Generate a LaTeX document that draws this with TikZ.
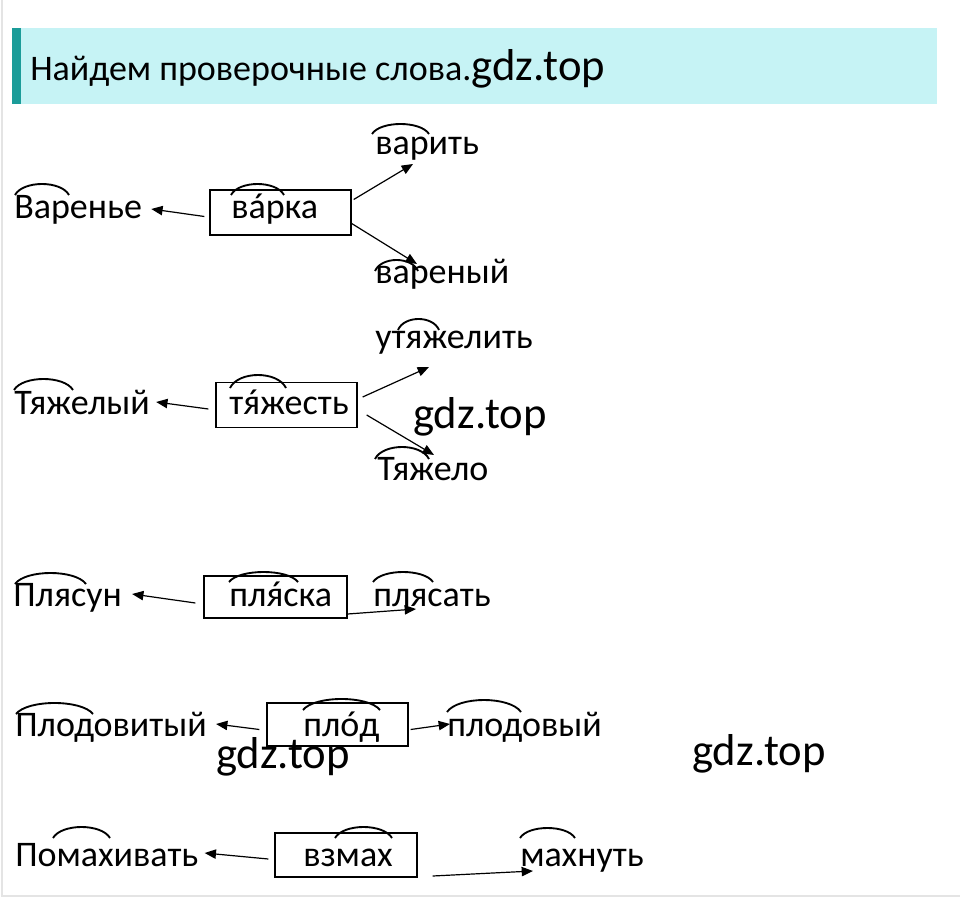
\documentclass[tikz,border=0pt]{standalone}
\usepackage{fontspec}
\setmainfont{Carlito}
\usetikzlibrary{arrows.meta,calc}
\definecolor{band}{HTML}{C6F3F5}
\definecolor{tealbar}{HTML}{1B9C99}
\definecolor{frame}{HTML}{E4E4E4}
\newcommand\warc[4]{%
  \pgfmathsetmacro\ctrly{#3+(#4-#3)/0.75}%
  \draw[arcl] (#1,#3) .. controls ({#1+0.15*(#2-#1)},\ctrly) and ({#2-0.15*(#2-#1)},\ctrly) .. (#2,#3);}
\newcommand\stressed[1]{\leavevmode\ooalign{#1\cr\hidewidth\kern0.12em ´\hidewidth\cr}}
\begin{document}
\begin{tikzpicture}[x=0.75pt,y=-0.75pt,
  word/.style={inner sep=0pt, anchor=base west, font=\fontsize{27}{31}\selectfont},
  hdr/.style={inner sep=0pt, anchor=base west, font=\fontsize{27}{31}\selectfont},
  wm/.style={inner sep=0pt, anchor=base west, font=\fontsize{33.5}{38}\selectfont},
  wbox/.style={draw, line width=1pt, inner sep=0pt},
  arr/.style={line width=0.9pt, -{Triangle[length=8.5pt,width=7pt]}},
  arcl/.style={line width=1.4pt}]
\useasboundingbox (0,0) rectangle (960,898);
\fill[white] (0,0) rectangle (960,898);
\draw[frame, line width=1.2pt] (2,0) -- (2,896) -- (960,896);
% header
\fill[band] (12,28) rectangle (937,104);
\fill[tealbar] (12,28) rectangle (21,104);
\node[hdr] (title) at (30,81) {Найдем проверочные слова.};
\node[wm] (wm0) at (title.base east) {gdz.top};
% row 1
\node[word] (w1l) at (14,219) {Варенье};
\node[wbox, minimum width=141*0.75pt, minimum height=45*0.75pt] (b1) at (280.5,212.5) {};
\node[word] (w1c) at (231,219) {в\stressed{а}рка};
\node[word] (w1u) at (375,155) {варить};
\node[word] (w1d) at (375,284) {вареный};
\warc{15}{69}{195}{184}
\warc{231}{284}{195}{184}
\warc{372}{429}{134}{124}
\warc{375}{418}{271}{260}
\draw[arr] ($(b1.west)+(-5,4)$) -- ($(w1l.base east)+(9,-10)$);
\draw[arr] ($(b1.east)+(2,-13)$) -- ($(w1u.base west)+(38,9)$);
\draw[arr] ($(b1.east)+(0,11)$) -- ($(w1d.base west)+(42,-20)$);
% row 2
\node[word] (w2l) at (14,414) {Тяжелый};
\node[wbox, minimum width=141*0.75pt, minimum height=45*0.75pt] (b2) at (286.5,405) {};
\node[word] (w2c) at (229,414) {т\stressed{я}жесть};
\node[word] (w2u) at (375,349) {утяжелить};
\node[word] (w2d) at (377,480) {Тяжело};
\node[wm] (wm1) at (413,428) {gdz.top};
\warc{14}{73}{390}{379}
\warc{230}{286}{388}{375}
\warc{398}{439}{330}{319}
\warc{375}{429}{459}{447}
\draw[arr] ($(b2.west)+(-7,4)$) -- ($(w2l.base east)+(6,-12)$);
\draw[arr] ($(b2.east)+(5,-8)$) -- ($(w2u.base west)+(54,18)$);
\draw[arr] ($(b2.east)+(9,10)$) -- ($(w2d.base west)+(57,-25)$);
% row 3
\node[word] (w3l) at (13,606) {Плясун};
\node[wbox, minimum width=143*0.75pt, minimum height=42*0.75pt] (b3) at (275.5,597) {};
\node[word] (w3c) at (229,606) {пл\stressed{я}ска};
\node[word] (w3r) at (373,606) {плясать};
\warc{15}{86}{584}{573}
\warc{229}{298}{582}{572}
\warc{373}{433}{582}{572}
\draw[arr] ($(b3.west)+(-8,6)$) -- ($(w3l.base east)+(10,-12)$);
\draw[arr] ($(b3.east)+(0,17)$) -- ($(w3r.base west)+(43,3)$);
% row 4
\node[word] (w4l) at (15,736) {Плодовитый};
\node[wbox, minimum width=141*0.75pt, minimum height=43*0.75pt] (b4) at (337.5,724.5) {};
\node[word] (w4c) at (303,736) {пл\stressed{о}д};
\node[word] (w4r) at (447,736) {плодовый};
\node[wm] (wm2) at (216,768) {gdz.top};
\node[wm] (wm3) at (692,765) {gdz.top};
\warc{16}{93}{714}{703}
\warc{303}{380}{710}{699}
\warc{447}{521}{712}{700}
\draw[arr] ($(b4.west)+(-7,5)$) -- ($(w4l.base east)+(9,-12)$);
\draw[arr] ($(b4.east)+(2,5)$) -- ($(w4r.base west)+(3,-12)$);
% row 5
\node[word] (w5l) at (15,866) {Помахивать};
\node[wbox, minimum width=142*0.75pt, minimum height=44*0.75pt] (b5) at (346,855) {};
\node[word] (w5c) at (303,866) {взмах};
\node[word] (w5r) at (520,866) {махнуть};
\warc{53}{110}{838}{827}
\warc{335}{392}{838}{827}
\warc{520}{575}{838}{828}
\draw[arr] ($(b5.west)+(-6,4)$) -- ($(w5l.base east)+(6,-13)$);
\draw[arr] ($(b5.east)+(15,21)$) -- ($(w5r.base west)+(13,5)$);
\end{tikzpicture}
\end{document}
